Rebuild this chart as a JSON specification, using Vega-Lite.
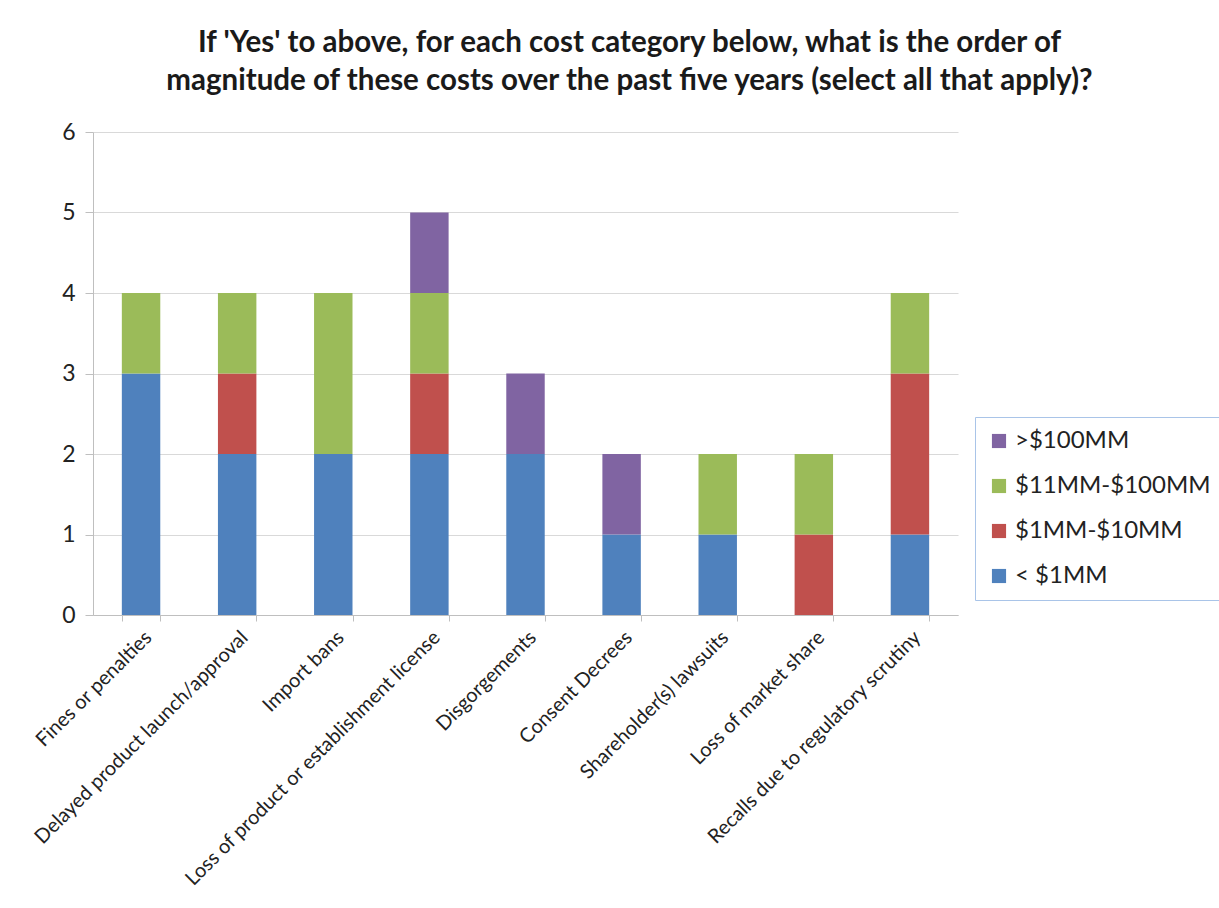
{
  "$schema": "https://vega.github.io/schema/vega-lite/v6.json",
  "autosize": "none",
  "width": 865,
  "height": 483,
  "padding": {"left": 93, "top": 132, "right": 261, "bottom": 293},
  "background": "white",
  "title": {
    "text": ["If 'Yes' to above, for each cost category below, what is the order of", "magnitude of these costs over the past five years (select all that apply)?"],
    "font": "Lato",
    "fontSize": 29.5,
    "fontWeight": "bold",
    "color": "#1a1a1a",
    "anchor": "middle",
    "dx": 104,
    "offset": 25,
    "lineHeight": 38
  },
  "data": {
    "values": [
      {"category": "Fines or penalties", "cost": "< $1MM", "count": 3},
      {"category": "Fines or penalties", "cost": "$11MM-$100MM", "count": 1},
      {"category": "Delayed product launch/approval", "cost": "< $1MM", "count": 2},
      {"category": "Delayed product launch/approval", "cost": "$1MM-$10MM", "count": 1},
      {"category": "Delayed product launch/approval", "cost": "$11MM-$100MM", "count": 1},
      {"category": "Import bans", "cost": "< $1MM", "count": 2},
      {"category": "Import bans", "cost": "$11MM-$100MM", "count": 2},
      {"category": "Loss of product or establishment license", "cost": "< $1MM", "count": 2},
      {"category": "Loss of product or establishment license", "cost": "$1MM-$10MM", "count": 1},
      {"category": "Loss of product or establishment license", "cost": "$11MM-$100MM", "count": 1},
      {"category": "Loss of product or establishment license", "cost": ">$100MM", "count": 1},
      {"category": "Disgorgements", "cost": "< $1MM", "count": 2},
      {"category": "Disgorgements", "cost": ">$100MM", "count": 1},
      {"category": "Consent Decrees", "cost": "< $1MM", "count": 1},
      {"category": "Consent Decrees", "cost": ">$100MM", "count": 1},
      {"category": "Shareholder(s) lawsuits", "cost": "< $1MM", "count": 1},
      {"category": "Shareholder(s) lawsuits", "cost": "$11MM-$100MM", "count": 1},
      {"category": "Loss of market share", "cost": "$1MM-$10MM", "count": 1},
      {"category": "Loss of market share", "cost": "$11MM-$100MM", "count": 1},
      {"category": "Recalls due to regulatory scrutiny", "cost": "< $1MM", "count": 1},
      {"category": "Recalls due to regulatory scrutiny", "cost": "$1MM-$10MM", "count": 2},
      {"category": "Recalls due to regulatory scrutiny", "cost": "$11MM-$100MM", "count": 1}
    ]
  },
  "transform": [
    {"calculate": "indexof(['< $1MM','$1MM-$10MM','$11MM-$100MM','>$100MM'], datum.cost)", "as": "order"}
  ],
  "mark": {"type": "bar"},
  "encoding": {
    "x": {
      "field": "category",
      "type": "nominal",
      "sort": null,
      "scale": {"paddingInner": 0.6, "paddingOuter": 0.3},
      "axis": {
        "title": null,
        "labelAngle": -45,
        "labelFont": "Lato",
        "labelFontSize": 20,
        "labelColor": "#222222",
        "labelPadding": 6,
        "domainColor": "#bfbfbf",
        "tickColor": "#bfbfbf",
        "tickBand": "extent",
        "tickSize": 6,
        "labelLimit": 500
      }
    },
    "y": {
      "field": "count",
      "type": "quantitative",
      "aggregate": "sum",
      "stack": "zero",
      "scale": {"domain": [0, 6]},
      "axis": {
        "title": null,
        "values": [0, 1, 2, 3, 4, 5, 6],
        "labelFont": "Lato",
        "labelFontSize": 23,
        "labelColor": "#222222",
        "labelPadding": 10,
        "tickSize": 8,
        "tickColor": "#bfbfbf",
        "domainColor": "#bfbfbf",
        "gridColor": "#d9d9d9",
        "gridWidth": 1
      }
    },
    "color": {
      "field": "cost",
      "type": "nominal",
      "scale": {
        "domain": [">$100MM", "$11MM-$100MM", "$1MM-$10MM", "< $1MM"],
        "range": ["#8064a2", "#9bbb59", "#c0504d", "#4f81bd"]
      },
      "legend": {
        "title": null,
        "orient": "none",
        "legendX": 882,
        "legendY": 285,
        "symbolType": "square",
        "symbolSize": 200,
        "symbolStrokeWidth": 0,
        "labelFont": "Lato",
        "labelFontSize": 24,
        "labelColor": "#222222",
        "labelOffset": 4,
        "rowPadding": 21,
        "padding": 12,
        "strokeColor": "#a9c4e8",
        "fillColor": "white",
        "labelLimit": 300
      }
    },
    "order": {"field": "order", "type": "quantitative", "sort": "ascending"}
  },
  "config": {"view": {"stroke": null}}
}
